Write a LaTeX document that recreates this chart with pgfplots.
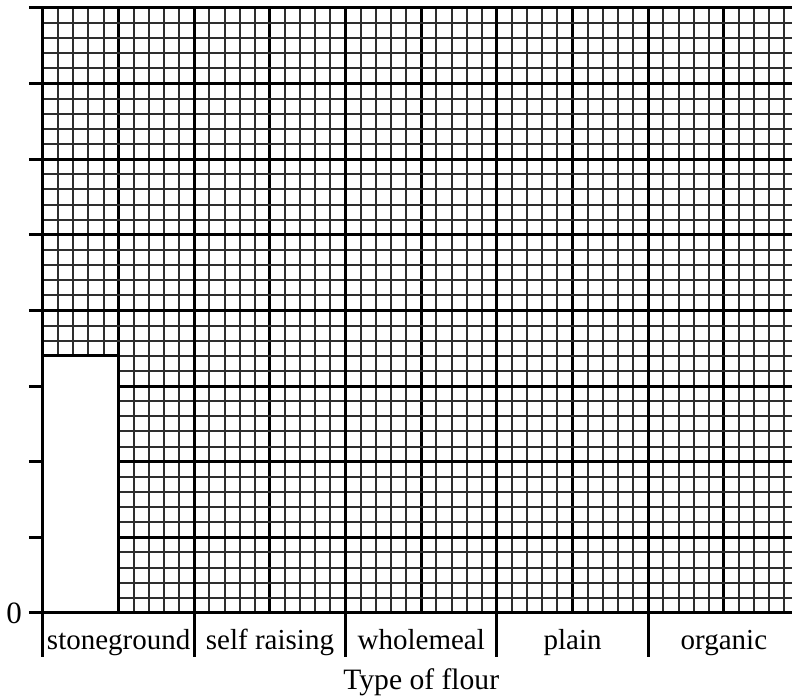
\documentclass[border=0pt]{standalone}
\usepackage{fontspec}
\setmainfont{Liberation Serif}
\usepackage{pgfplots}
\pgfplotsset{compat=1.18}
\begin{document}
\begin{tikzpicture}
\begin{axis}[
  scale only axis,
  width=374.5pt, height=302.5pt,
  xmin=0, xmax=9.9, ymin=0, ymax=8,
  axis x line*=bottom, axis y line*=left,
  axis line style={line width=1.5pt, black},
  clip=false,
  /pgf/number format/assume math mode=true,
  tick label style={font=\fontsize{14.5}{17}\selectfont},
  yticklabel style={font=\fontsize{15.5}{18}\selectfont},
  label style={font=\fontsize{14.8}{18}\selectfont},
  xtick={1,3,5,7,9},
  xticklabels={stoneground,self raising,wholemeal,plain,organic},
  xtick align=inside,
  xticklabel style={anchor=base, yshift=-18.5pt},
  minor xtick={0,0.2,...,9.8},
  extra x ticks={0,2,4,6,8},
  extra x tick labels={},
  extra x tick style={major tick length=22pt, tick align=outside, tick style={line width=1.5pt, black}},
  ytick={0,1,...,8},
  yticklabels={0,,,,,,,,},
  minor y tick num=4,
  ytick align=outside,
  major tick length=7pt,
  minor tick length=0pt,
  tick style={line width=1.5pt, black},
  grid=both,
  major grid style={line width=1.5pt, black},
  minor grid style={line width=1pt, black!82},
  xlabel={Type of flour},
  xlabel style={at={(axis description cs:0.505,0)}, anchor=base, yshift=-38.5pt},
]
\addplot[ybar, bar width=1, fill=white, draw=black, line width=1.5pt] coordinates {(0.5,3.4)};
\end{axis}
\pgfresetboundingbox
\path (current axis.south west) ++(-21.5pt,-43pt) coordinate (bl);
\path (current axis.north east) ++(0pt,4pt) coordinate (tr);
\useasboundingbox (bl) rectangle (tr);
\end{tikzpicture}
\end{document}
